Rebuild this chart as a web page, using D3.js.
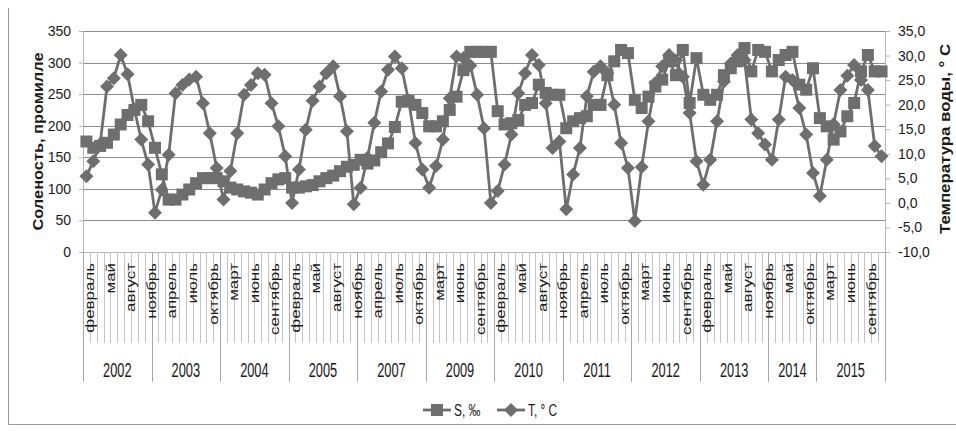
<!DOCTYPE html>
<html>
<head>
<meta charset="utf-8">
<script src="https://cdn.jsdelivr.net/npm/d3@7"></script>
<style>
  body { margin: 0; background: #fff; }
  text { font-family: "Liberation Sans", Arial, sans-serif; fill: #1a1a1a; }
</style>
</head>
<body>
<div id="chart"></div>
<script>
// Data
const years = ["2002", "2003", "2004", "2005", "2007", "2009", "2010", "2011", "2012", "2013", "2014", "2015"];
const monthsFull = ["февраль", "март", "апрель", "май", "июнь", "июль", "август", "сентябрь", "октябрь", "ноябрь"];
const months2014 = ["март", "апрель", "май", "август", "сентябрь", "октябрь", "ноябрь"];

// S, ‰ (left axis)
const salinity = [
  175, 165, 168, 173, 186, 202, 217, 225, 233, 207,
  165, 123, 83, 83, 91, 99, 109, 117, 117, 117,
  112, 102, 99, 96, 94, 91, 99, 109, 115, 117,
  102, 102, 104, 106, 112, 117, 121, 128, 135, 138,
  146, 140, 145, 158, 172, 198, 238, 239, 233, 220,
  199, 199, 207, 225, 246, 288, 317, 317, 317, 317,
  223, 202, 204, 209, 233, 236, 265, 252, 249, 249,
  196, 207, 212, 215, 233, 233, 280, 302, 320, 315,
  241, 228, 246, 262, 273, 302, 280, 320, 236, 307,
  249, 241, 249, 280, 291, 302, 323, 286, 320, 317,
  286, 304, 312, 317, 265, 257, 291,
  212, 199, 178, 191, 215, 236, 286, 312, 286, 286
];

// T, ° C (right axis)
const temperature = [
  5.4, 8.5, 12.0, 23.7, 25.4, 30.1, 26.2, 19.0, 12.9, 7.8,
  -2.0, 2.7, 9.8, 22.3, 24.0, 25.1, 25.7, 20.3, 14.2, 7.1,
  0.7, 6.5, 14.2, 22.0, 24.0, 26.4, 26.1, 20.3, 15.6, 9.5,
  0.0, 6.8, 14.9, 20.8, 23.7, 26.4, 27.8, 21.7, 14.6, -0.3,
  3.1, 9.2, 16.3, 22.7, 27.1, 29.8, 27.4, 20.8, 12.2, 6.8,
  3.1, 7.5, 12.9, 21.3, 29.8, 29.5, 28.0, 22.0, 15.2, 0.0,
  2.4, 7.8, 13.9, 22.3, 26.4, 30.1, 28.1, 20.3, 11.2, 12.5,
  -1.3, 5.8, 11.2, 21.7, 26.7, 27.8, 26.4, 20.0, 12.2, 7.1,
  -3.7, 7.3, 16.6, 24.4, 27.8, 30.1, 29.0, 25.7, 18.3, 8.5,
  3.7, 8.8, 16.6, 24.7, 28.4, 30.1, 29.1, 17.0, 14.2, 11.9,
  8.8, 17.0, 25.7, 25.0, 19.3, 13.9, 6.1,
  1.4, 8.8, 16.0, 23.0, 25.9, 28.1, 25.0, 23.0, 11.6, 9.5
];

const sTicks = [0, 50, 100, 150, 200, 250, 300, 350];
const tTicks = [-10, -5, 0, 5, 10, 15, 20, 25, 30, 35];

// categories: one per measured month
const categories = [];
years.forEach((y) => {
  const ms = y === "2014" ? months2014 : monthsFull;
  ms.forEach((m) => categories.push({ year: y, month: m }));
});

// Dimensions
const dimensions = { width: 956, height: 434, left: 83, right: 885, top: 31, bottom: 252 };

const svg = d3.select("#chart").append("svg")
  .attr("width", dimensions.width)
  .attr("height", dimensions.height);

// Scales
const xScale = d3.scaleBand()
  .domain(d3.range(categories.length))
  .range([dimensions.left, dimensions.right]);
const bw = xScale.bandwidth();
const cx = (i) => xScale(i) + bw / 2;

const sScale = d3.scaleLinear().domain([0, 350]).range([dimensions.bottom, dimensions.top]);
const tScale = d3.scaleLinear().domain([-10, 35]).range([dimensions.bottom, dimensions.top]);

// chart frame (left and bottom edges visible)
svg.append("path")
  .attr("d", "M8.5,8 V424.5 H956")
  .attr("fill", "none")
  .attr("stroke", "#9a9a9a");

// Gridlines
svg.append("g").selectAll("line")
  .data(sTicks.slice(1))
  .join("line")
  .attr("x1", dimensions.left).attr("x2", dimensions.right)
  .attr("y1", (d) => Math.round(sScale(d)) + 0.5)
  .attr("y2", (d) => Math.round(sScale(d)) + 0.5)
  .attr("stroke", "#8c8c8c")
  .attr("stroke-width", 1.2);

// Left axis
const leftAxis = svg.append("g")
  .attr("transform", `translate(${dimensions.left}, 0)`)
  .call(d3.axisLeft(sScale).tickValues(sTicks).tickSize(4).tickPadding(8).tickFormat(d3.format("d")));
leftAxis.select(".domain").attr("stroke", "#b5b5b5");
leftAxis.selectAll(".tick line").attr("stroke", "#b5b5b5");
leftAxis.selectAll("text").attr("font-size", 14).attr("fill", "#222");

// Right axis
const rightAxis = svg.append("g")
  .attr("transform", `translate(${dimensions.right}, 0)`)
  .call(d3.axisRight(tScale).tickValues(tTicks).tickSize(5).tickPadding(8)
    .tickFormat((d) => d.toFixed(1).replace(".", ",")));
rightAxis.select(".domain").attr("stroke", "#b5b5b5");
rightAxis.selectAll(".tick line").attr("stroke", "#b5b5b5");
rightAxis.selectAll("text").attr("font-size", 14).attr("fill", "#222");

// Category axis: base line, month ticks, year separators
const catAxis = svg.append("g");
catAxis.append("line")
  .attr("x1", dimensions.left).attr("x2", dimensions.right)
  .attr("y1", dimensions.bottom + 0.5).attr("y2", dimensions.bottom + 0.5)
  .attr("stroke", "#b5b5b5");

const bounds = d3.range(categories.length + 1);
const isYearEdge = (b) => b === 0 || b === categories.length || categories[b].year !== categories[b - 1].year;
const edgeX = (b) => (b === categories.length ? dimensions.right : xScale(b));

catAxis.selectAll("line.tick")
  .data(bounds)
  .join("line")
  .attr("class", "tick")
  .attr("x1", (b) => Math.round(edgeX(b)) + 0.5)
  .attr("x2", (b) => Math.round(edgeX(b)) + 0.5)
  .attr("y1", dimensions.bottom)
  .attr("y2", (b) => (isYearEdge(b) ? 382 : 343))
  .attr("stroke", (b) => (isYearEdge(b) ? "#a8a8a8" : "#c4c4c4"));

// month labels, every third category
catAxis.selectAll("text.month")
  .data(categories.map((c, i) => ({ ...c, i })).filter((d) => d.i % 3 === 0))
  .join("text")
  .attr("class", "month")
  .attr("transform", (d) => `translate(${cx(d.i) + 3}, 263) rotate(-90) scale(1.3, 1)`)
  .attr("text-anchor", "end")
  .attr("dominant-baseline", "central")
  .attr("font-size", 13)
  .text((d) => d.month);

// year labels
const yearSpans = years.map((y) => {
  const idx = categories.map((c, i) => (c.year === y ? i : -1)).filter((i) => i >= 0);
  return { year: y, x0: xScale(idx[0]), x1: xScale(idx[idx.length - 1]) + bw };
});
catAxis.selectAll("text.year")
  .data(yearSpans)
  .join("text")
  .attr("class", "year")
  .attr("transform", (d) => `translate(${(d.x0 + d.x1) / 2}, 370) scale(0.64, 1)`)
  .attr("text-anchor", "middle")
  .attr("dominant-baseline", "central")
  .attr("font-size", 20)
  .text((d) => d.year);

// Axis titles
svg.append("text")
  .attr("transform", `translate(38, ${(dimensions.top + dimensions.bottom) / 2}) rotate(-90) scale(1.17, 1)`)
  .attr("text-anchor", "middle")
  .attr("dominant-baseline", "central")
  .attr("font-size", 14)
  .attr("font-weight", "bold")
  .text("Соленость, промилле");

svg.append("text")
  .attr("transform", `translate(945, 139) rotate(-90) scale(1.2, 1)`)
  .attr("text-anchor", "middle")
  .attr("dominant-baseline", "central")
  .attr("font-size", 14)
  .attr("font-weight", "bold")
  .text("Температура воды, ° С");

// Series
const color = "#6e6e6e";
const squarePath = "M-6,-6H6V6H-6Z";
const diamondPath = "M0,-7L7,0L0,7L-7,0Z";

const sLine = d3.line().x((d, i) => cx(i)).y((d) => sScale(d));
const tLine = d3.line().x((d, i) => cx(i)).y((d) => tScale(d));

svg.append("path")
  .datum(salinity)
  .attr("d", sLine)
  .attr("fill", "none")
  .attr("stroke", color)
  .attr("stroke-width", 2.8)
  .attr("stroke-linejoin", "round");

svg.append("g").selectAll("path")
  .data(salinity)
  .join("path")
  .attr("d", squarePath)
  .attr("transform", (d, i) => `translate(${cx(i)}, ${sScale(d)})`)
  .attr("fill", color);

svg.append("path")
  .datum(temperature)
  .attr("d", tLine)
  .attr("fill", "none")
  .attr("stroke", color)
  .attr("stroke-width", 2.8)
  .attr("stroke-linejoin", "round");

svg.append("g").selectAll("path")
  .data(temperature)
  .join("path")
  .attr("d", diamondPath)
  .attr("transform", (d, i) => `translate(${cx(i)}, ${tScale(d)})`)
  .attr("fill", color);

// Legend
const legend = svg.append("g").attr("transform", "translate(0, 410)");
const legendItems = [
  { name: "S, ‰", shape: squarePath, x: 423 },
  { name: "T, ° C", shape: diamondPath, x: 497 },
];
legendItems.forEach((item) => {
  legend.append("line")
    .attr("x1", item.x).attr("x2", item.x + 28)
    .attr("stroke", color).attr("stroke-width", 2.8);
  legend.append("path")
    .attr("d", item.shape)
    .attr("transform", `translate(${item.x + 14}, 0)`)
    .attr("fill", color);
  legend.append("text")
    .attr("transform", `translate(${item.x + 31}, 0) scale(0.7, 1)`)
    .attr("dominant-baseline", "central")
    .attr("font-size", 17)
    .text(item.name);
});
</script>
</body>
</html>
